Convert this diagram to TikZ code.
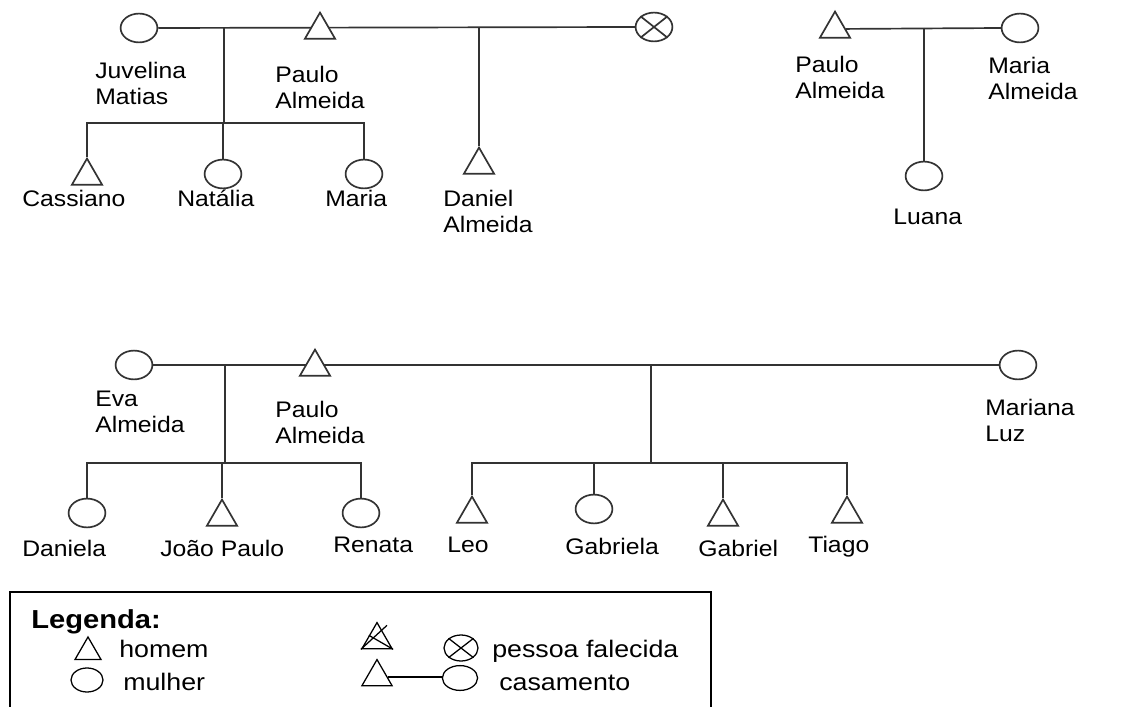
\documentclass[tikz,border=0pt]{standalone}
\usepackage{fontspec}
\setmainfont{Liberation Sans}
\newfontfamily\lblfam{Liberation Sans}[FakeStretch=1.1]
\newfontfamily\legfam{Liberation Sans}[FakeStretch=1.12]
\usetikzlibrary{shapes.geometric,backgrounds,calc}

\newcommand{\lblfont}{\lblfam\fontsize{16}{18.5}\selectfont}
\newcommand{\legfont}{\legfam\fontsize{17}{20}\selectfont}

\tikzset{
  fem/.style={ellipse,draw=black!80,line width=1.2pt,fill=white,minimum width=0.92cm,minimum height=0.72cm,inner sep=0pt},
  masc/.style={regular polygon,regular polygon sides=3,draw=black!80,line width=1.2pt,fill=white,minimum size=0.87cm,inner sep=0pt},
  lbl/.style={anchor=north west,align=left,inner sep=0pt,font=\lblfont},
  tie/.style={draw=black!80,line width=1.2pt},
  legtext/.style={anchor=base west,inner sep=0pt,font=\legfont},
  legmasc/.style={regular polygon,regular polygon sides=3,draw,line width=0.9pt,inner sep=0pt},
  legfem/.style={ellipse,draw,line width=0.9pt,inner sep=0pt},
}

\begin{document}
\begin{tikzpicture}[x=0.025cm,y=-0.025cm]
  \useasboundingbox (0,0) rectangle (1142,707);

  % familia 1
  \node[fem] (juvelina) at (139,28) {};
  \node[masc] (paulo1) at (320,30) {};
  \node[fem] (falecida) at (654,27) {};
  \draw[line width=1.2pt,black!80] (falecida.north west) -- (falecida.south east)
    (falecida.north east) -- (falecida.south west);
  \node[masc] (cassiano) at (87,176) {};
  \node[fem] (natalia) at (223,174) {};
  \node[fem] (maria1) at (364,174) {};
  \node[masc] (daniel) at (479,165) {};
  \coordinate (m1) at (224,28);
  \coordinate (b1) at (224,123);
  \coordinate (m2) at (479,28);
  \begin{scope}[on background layer]
    \draw[tie] (juvelina.east) -- (falecida.west);
    \draw[tie] (m1) -- (b1);
    \draw[tie] (cassiano.corner 1) -- (cassiano.corner 1 |- b1) -- (maria1.north |- b1) -- (maria1.north);
    \draw[tie] (natalia.north) -- (natalia.north |- b1);
    \draw[tie] (m2) -- (daniel.corner 1);
  \end{scope}
  \node[lbl] (juvelinaL) at (95,62) {Juvelina\\Matias};
  \node[lbl] (paulo1L) at (275,66) {Paulo\\Almeida};
  \node[lbl] (cassianoL) at (22,190) {Cassiano};
  \node[lbl] (nataliaL) at (177,190) {Natália};
  \node[lbl] (maria1L) at (325,190) {Maria};
  \node[lbl] (danielL) at (443,190) {Daniel\\Almeida};

  % familia 2
  \node[masc] (paulo2) at (835,29) {};
  \node[fem] (maria2) at (1020,28) {};
  \node[fem] (luana) at (924,176) {};
  \coordinate (m3) at (924,28);
  \begin{scope}[on background layer]
    \draw[tie] (paulo2) -- (maria2.west);
    \draw[tie] (m3) -- (luana.north);
  \end{scope}
  \node[lbl] (paulo2L) at (795,56) {Paulo\\Almeida};
  \node[lbl] (maria2L) at (988,57) {Maria\\Almeida};
  \node[lbl] (luanaL) at (893,209) {Luana};

  % familia 3
  \node[fem] (eva) at (134,365) {};
  \node[masc] (paulo3) at (315,367) {};
  \node[fem] (mariana) at (1018,365) {};
  \node[fem] (daniela) at (87,513) {};
  \node[masc] (joao) at (222,517) {};
  \node[fem] (renata) at (361,513) {};
  \node[masc] (leo) at (472,514) {};
  \node[fem] (gabriela) at (594,509) {};
  \node[masc] (gabriel) at (723,517) {};
  \node[masc] (tiago) at (847,514) {};
  \coordinate (m4) at (225,365);
  \coordinate (b4) at (225,463);
  \coordinate (m5) at (651,365);
  \coordinate (b5) at (651,463);
  \begin{scope}[on background layer]
    \draw[tie] (eva.east) -- (mariana.west);
    \draw[tie] (m4) -- (b4);
    \draw[tie] (daniela.north) -- (daniela.north |- b4) -- (renata.north |- b4) -- (renata.north);
    \draw[tie] (joao.corner 1) -- (joao.corner 1 |- b4);
    \draw[tie] (m5) -- (b5);
    \draw[tie] (leo.corner 1) -- (leo.corner 1 |- b5) -- (tiago.corner 1 |- b5) -- (tiago.corner 1);
    \draw[tie] (gabriela.north) -- (gabriela.north |- b5);
    \draw[tie] (gabriel.corner 1) -- (gabriel.corner 1 |- b5);
  \end{scope}
  \node[lbl] (evaL) at (95,391) {Eva\\Almeida};
  \node[lbl] (paulo3L) at (275,401) {Paulo\\Almeida};
  \node[lbl] (marianaL) at (985,399) {Mariana\\Luz};
  \node[lbl] (danielaL) at (22,540) {Daniela};
  \node[lbl] (joaoL) at (160,540) {João Paulo};
  \node[lbl] (renataL) at (333,537) {Renata};
  \node[lbl] (leoL) at (447,537) {Leo};
  \node[lbl] (gabrielaL) at (565,538) {Gabriela};
  \node[lbl] (gabrielL) at (698,540) {Gabriel};
  \node[lbl] (tiagoL) at (808,536) {Tiago};

  % legenda
  \begin{scope}
    \clip (0,0) rectangle (1142,707);
    \draw[line width=1.2pt] (10,592) rectangle (711,740);
  \end{scope}
  \node[anchor=base west,inner sep=0pt,font=\legfam\fontsize{18.5}{20}\selectfont\bfseries] (legenda) at (31,628) {Legenda:};
  \node[legmasc,minimum size=0.75cm] (homemS) at (88,652) {};
  \node[legtext] (homemL) at (119,657) {homem};
  \node[legfem,minimum width=0.8cm,minimum height=0.6cm] (mulherS) at (87,680) {};
  \node[legtext] (mulherL) at (123,690) {mulher};
  \node[legmasc,minimum size=0.87cm] (mortoS) at (377,640) {};
  \draw[line width=0.9pt] (mortoS.corner 2) -- ($(mortoS.corner 1)+(10,4)$);
  \draw[line width=0.9pt] ($(mortoS.corner 1)!0.5!(mortoS.corner 2)$) -- (mortoS.corner 3);
  \node[legfem,minimum width=0.85cm,minimum height=0.65cm] (falecidaS) at (461,648) {};
  \draw[line width=0.9pt] (falecidaS.north west) -- (falecidaS.south east)
    (falecidaS.north east) -- (falecidaS.south west);
  \node[legtext] (falecidaL) at (492,657) {pessoa falecida};
  \node[legmasc,minimum size=0.87cm] (casaH) at (377,677) {};
  \node[legfem,minimum width=0.88cm,minimum height=0.62cm] (casaM) at (460,678) {};
  \draw[line width=0.9pt] (casaH.east) -- (casaH.east -| casaM.west);
  \node[legtext] (casaL) at (499,690) {casamento};
\end{tikzpicture}
\end{document}
